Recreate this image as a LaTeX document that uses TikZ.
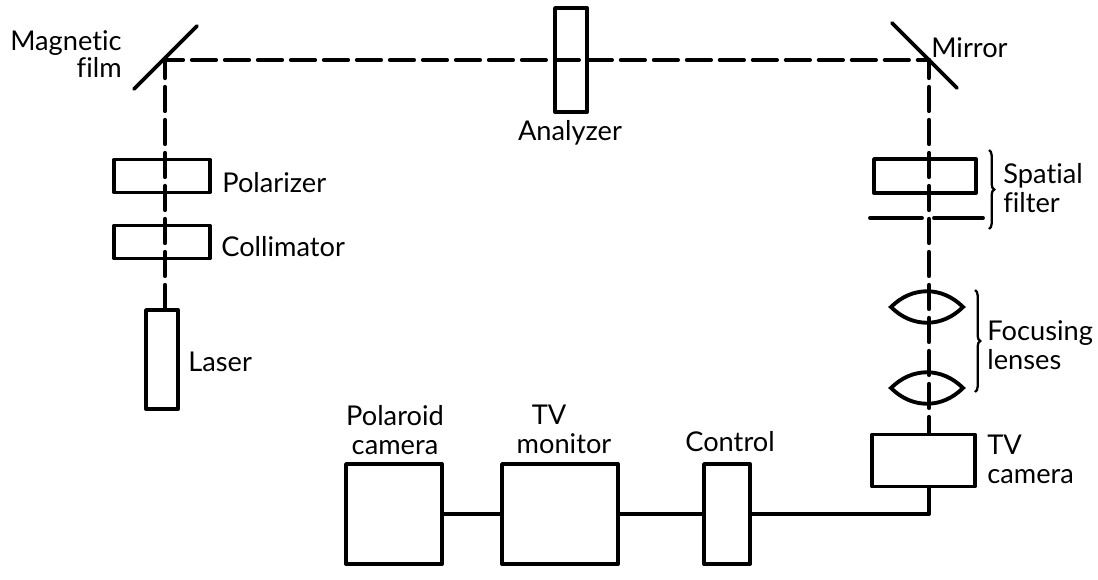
\documentclass[tikz,border=0pt]{standalone}
\usepackage{fontspec}
\setmainfont{Lato}[Ligatures=NoCommon]
\usetikzlibrary{positioning, decorations.pathreplacing}

\begin{document}
\begin{tikzpicture}[
    x=0.02cm, y=-0.02cm,
    box/.style={draw, line width=2.2pt, line join=round, inner sep=0pt},
    lbl/.style={inner sep=0pt, align=left, font=\fontsize{15.5}{16.5}\selectfont},
    beam/.style={line width=2.4pt, dash pattern=on 0.48cm off 0.18cm, dash phase=0.12cm, line cap=round},
    optic/.style={line width=2.2pt, line cap=round},
    wire/.style={line width=2.2pt, line join=round},
    curly/.style={line width=1.3pt, decorate, decoration={brace, amplitude=3pt}}
]
\useasboundingbox (0,0) rectangle (1098,579);

% Mirrors
\coordinate (film) at (165,60);
\coordinate (mirror) at (929,60);
\draw[optic] (134,89) -- (197,26);
\draw[optic] (892,23) -- (957,88);

% Left arm
\node[box, minimum width=1.92cm, minimum height=0.66cm] (polarizer) at (162,176) {};
\node[box, minimum width=1.92cm, minimum height=0.66cm] (collimator) at (162,242) {};
\node[box, minimum width=0.64cm, minimum height=1.98cm] (laser) at (162,359.5) {};

% Analyzer
\node[box, minimum width=0.64cm, minimum height=2.08cm] (analyzer) at (571,60) {};

% Right arm
\node[box, minimum width=2.04cm, minimum height=0.68cm] (pinhole) at (925,176) {};
\coordinate (stop) at (928,218);
\draw[optic] (870,218) -- (922,218);
\draw[optic] (934,218) -- (983,218);
\coordinate (lensa) at (927,307);
\coordinate (lensb) at (927,388);
\foreach \lens in {lensa, lensb} {
    \draw[optic] ([xshift=-0.72cm]\lens) .. controls ([shift={(-0.3cm,-0.42cm)}]\lens) and ([shift={(0.3cm,-0.42cm)}]\lens) .. ([xshift=0.72cm]\lens)
        .. controls ([shift={(0.3cm,0.42cm)}]\lens) and ([shift={(-0.3cm,0.42cm)}]\lens) .. cycle;
}
\node[box, minimum width=2.06cm, minimum height=1.04cm] (tvcamera) at (923.5,460.5) {};

% Display chain
\node[box, minimum width=1.92cm, minimum height=2cm] (polaroid) at (394,514) {};
\node[box, minimum width=2.32cm, minimum height=2cm] (monitor) at (560,514) {};
\node[box, minimum width=0.92cm, minimum height=2cm] (control) at (727,514) {};

% Beam
\draw[beam] (film) -- (mirror);
\draw[beam] (film) -- (film |- laser.north);
\draw[beam] (mirror) -- (mirror |- tvcamera.north);

% Wires
\draw[wire] (polaroid) -- (monitor);
\draw[wire] (monitor) -- (control);
\draw[wire] (control) -- (control -| mirror) -- (mirror |- tvcamera.south);

% Braces
\draw[curly] (989,150) -- (989,229);
\draw[curly] (975,290) -- (975,392);

% Labels
\node[lbl, align=right, anchor=north east, font=\fontsize{15.5}{15.4}\selectfont] (filmtext) at (122,30) {Magnetic\\film};
\node[lbl, anchor=west] (mirrortext) at (931,48) {Mirror};
\node[lbl, anchor=north] (analyzertext) at (570,120) {Analyzer};
\node[lbl, anchor=west] (polarizertext) at (222,183) {Polarizer};
\node[lbl, anchor=west] (collimatortext) at (221,247) {Collimator};
\node[lbl, anchor=west] (lasertext) at (188,362) {Laser};
\node[lbl, anchor=north west] (spatialtext) at (1003,163) {Spatial\\filter};
\node[lbl, anchor=north west] (focusingtext) at (987,320) {Focusing\\lenses};
\node[lbl, anchor=north west] (cameratext) at (987,435) {TV\\camera};
\node[lbl, align=center, anchor=north] (polaroidtext) at (395,405) {Polaroid\\camera};
\node[lbl, align=center, anchor=north] (monitortext) at (564,405) {TV\kern17pt\\monitor};
\node[lbl, anchor=north] (controltext) at (730,431) {Control};
\end{tikzpicture}
\end{document}
